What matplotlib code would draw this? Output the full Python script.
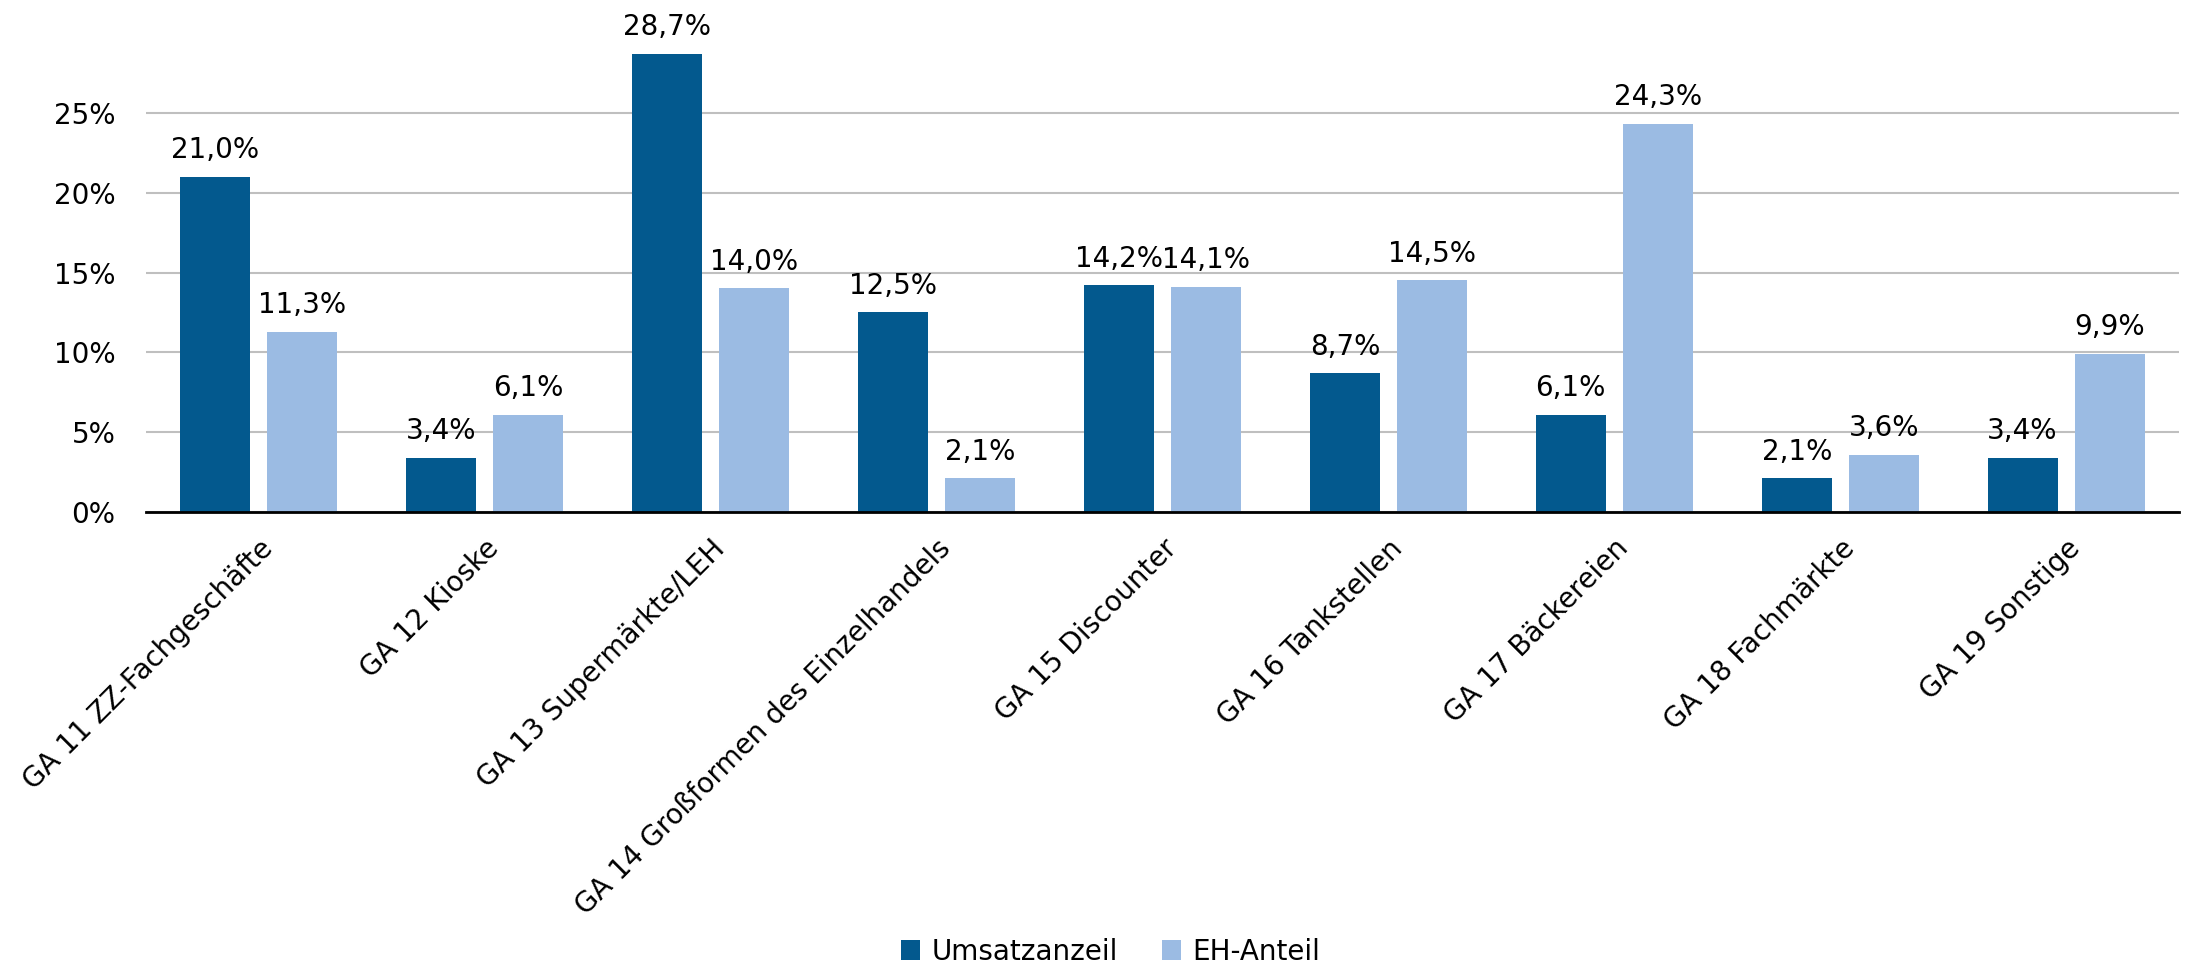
import numpy as np
import matplotlib
matplotlib.use("Agg")
import matplotlib.pyplot as plt

plt.rcParams['font.family'] = ['DejaVu Sans']

categories = ["GA 11 ZZ-Fachgeschäfte", "GA 12 Kioske", "GA 13 Supermärkte/LEH",
              "GA 14 Großformen des Einzelhandels", "GA 15 Discounter",
              "GA 16 Tankstellen", "GA 17 Bäckereien", "GA 18 Fachmärkte",
              "GA 19 Sonstige"]
umsatz = [21.0, 3.4, 28.7, 12.5, 14.2, 8.7, 6.1, 2.1, 3.4]
eh_anteil = [11.3, 6.1, 14.0, 2.1, 14.1, 14.5, 24.3, 3.6, 9.9]

dark = "#03598E"
light = "#9BBBE3"
fs = 20

fig = plt.figure(figsize=(21.86, 9.67), dpi=100)
ax = fig.add_axes([0.0668, 0.4705, 0.930, 0.4954])

x = np.arange(len(categories))
w = 0.31
off = 0.1925
b1 = ax.bar(x - off, umsatz, w, color=dark, label="Umsatzanzeil", zorder=3)
b2 = ax.bar(x + off, eh_anteil, w, color=light, label="EH-Anteil", zorder=3)

for bars, vals in ((b1, umsatz), (b2, eh_anteil)):
    for r, v in zip(bars, vals):
        ax.annotate(f"{v:.1f}%".replace(".", ","),
                    (r.get_x() + r.get_width() / 2, v),
                    xytext=(0, 9), textcoords="offset points",
                    ha="center", va="bottom", fontsize=fs, color="black")

ax.set_xlim(-0.5, len(categories) - 0.5)
ax.set_ylim(0, 30)
ax.set_yticks([0, 5, 10, 15, 20, 25])
ax.set_yticklabels([f"{t}%" for t in [0, 5, 10, 15, 20, 25]], fontsize=fs)
ax.set_xticks(x)
ax.set_xticklabels(categories, fontsize=fs, rotation=45, ha="right",
                   rotation_mode="anchor")
ax.tick_params(axis="both", length=0)
ax.tick_params(axis="y", pad=22)
ax.tick_params(axis="x", pad=16)

ax.yaxis.grid(True, color="#BFBFBF", linewidth=1.5, zorder=0)
ax.set_axisbelow(True)
for s in ["top", "right", "left"]:
    ax.spines[s].set_visible(False)
ax.spines["bottom"].set_linewidth(2)
ax.spines["bottom"].set_color("black")
ax.spines["bottom"].set_zorder(4)

fig.legend(handles=[b1, b2], loc="center", bbox_to_anchor=(0.508, 0.016),
           ncol=2, frameon=False, fontsize=fs, handlelength=0.7,
           handleheight=0.7, handletextpad=0.4, columnspacing=1.6)

fig.savefig("out.png", dpi=100, facecolor="white")
